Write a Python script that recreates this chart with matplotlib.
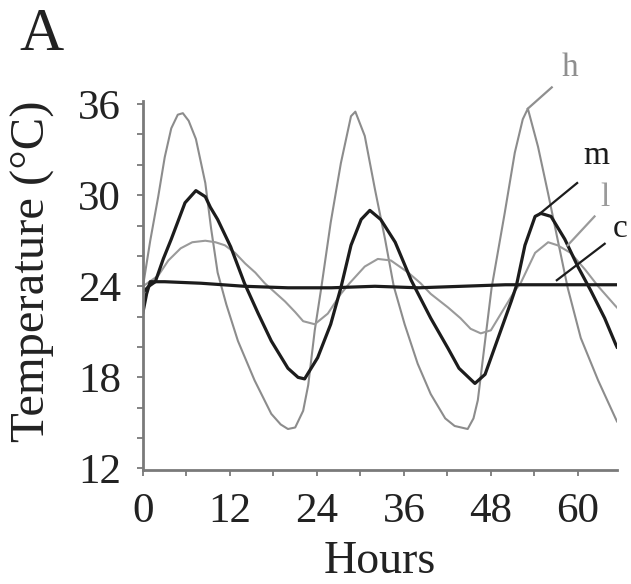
from matplotlib import pyplot as plt
from matplotlib.ticker import MultipleLocator

plt.rcParams['font.family'] = ['Liberation Serif', 'DejaVu Serif']

# h: high amplitude, m: medium, l: low, c: constant
h_hours = [0, 1, 2.1, 3, 3.9, 4.8, 5.5, 6.3, 7.3, 8.6, 9.4, 10.3, 11.5, 13.1,
           15.4, 17.7, 19, 20, 21, 22.1, 22.8, 23.7, 24.6, 25.9, 27.3, 28.7,
           29.3, 30.6, 32, 33.4, 34.6, 36.1, 37.9, 39.7, 41.7, 43, 44.8, 45.6,
           46.2, 47.2, 48.1, 49.9, 51.3, 52.4, 53.1, 54.5, 55.9, 57.2, 58.6,
           60.4, 62.8, 65.2, 65.4]
h_temp = [24.0, 27.0, 29.9, 32.5, 34.4, 35.3, 35.4, 34.9, 33.7, 30.8, 27.8,
          24.9, 22.8, 20.4, 17.8, 15.6, 14.9, 14.6, 14.7, 15.8, 17.5, 21.1,
          23.9, 28.2, 32.1, 35.2, 35.5, 33.9, 30.4, 27.1, 24.0, 21.5, 18.9,
          16.9, 15.3, 14.8, 14.6, 15.3, 16.5, 20.4, 23.9, 28.8, 32.8, 35.0,
          35.7, 33.2, 30.1, 27.1, 23.9, 20.6, 17.8, 15.3, 15.1]

m_hours = [0, 0.8, 1.7, 2.8, 3.9, 5.8, 7.3, 8.6, 9.3, 10.3, 12.1, 14, 15.9,
           17.7, 20, 21.4, 22.3, 24.1, 25.9, 27.3, 28.7, 30.1, 31.3, 32.8,
           34.8, 37, 39.7, 42.1, 43.6, 45.8, 47.2, 49, 50.8, 51.5, 52.7, 54.1,
           54.9, 56.3, 58.2, 60, 61.8, 63.7, 65.2, 65.4]
m_temp = [23.6, 24.0, 24.3, 25.8, 27.1, 29.5, 30.3, 29.9, 29.2, 28.4, 26.6,
          24.2, 22.2, 20.4, 18.6, 18.0, 17.9, 19.3, 21.5, 23.9, 26.7, 28.4,
          29.0, 28.4, 26.9, 24.4, 21.9, 19.9, 18.6, 17.6, 18.2, 20.6, 23.0,
          24.0, 26.7, 28.6, 28.8, 28.6, 27.1, 25.3, 23.7, 21.9, 20.2, 20.0]

l_hours = [0, 2.1, 3.5, 5.2, 6.8, 8.6, 10, 11.3, 12.7, 14.1, 15.5, 16.8, 18.2,
           19.6, 21, 22.1, 23.7, 25.5, 27.3, 28.5, 30.6, 32.4, 34.2, 36.6,
           38.3, 39.7, 42.1, 43.8, 45.2, 46.6, 48, 49.9, 51.3, 52.1, 54.1,
           55.9, 57.2, 59, 61, 62.8, 65.2, 65.4]
l_temp = [24.0, 24.7, 25.7, 26.5, 26.9, 27.0, 26.9, 26.7, 26.2, 25.5, 24.9,
          24.2, 23.6, 23.0, 22.3, 21.7, 21.5, 22.2, 23.5, 24.2, 25.3, 25.8,
          25.7, 24.9, 24.2, 23.5, 22.6, 21.9, 21.2, 20.9, 21.1, 22.6, 23.7,
          24.2, 26.2, 26.9, 26.7, 26.2, 25.1, 24.0, 22.7, 22.6]

c_hours = [0, 0.5, 1, 3, 8, 14, 20, 26, 32, 38, 44, 50, 56, 62, 65.4]
c_temp = [22.3, 23.5, 24.3, 24.3, 24.2, 24.0, 23.9, 23.9, 24.0, 23.9, 24.0,
          24.1, 24.1, 24.1, 24.1]

x_ticks = [0, 12, 24, 36, 48, 60]
y_ticks = [12, 18, 24, 30, 36]

GRAY = '#8c8c8c'
DARK = '#1c1c1c'
SPINE = '#7a7a7a'


def temperature_panel():
    fig = plt.figure(figsize=(6.31, 5.84), dpi=100)
    ax = fig.add_axes([0.2266, 0.1952, 0.7512, 0.6318])

    ax.plot(h_hours, h_temp, color=GRAY, lw=1.5)
    ax.plot(l_hours, l_temp, color='#9a9a9a', lw=1.5)
    ax.plot(m_hours, m_temp, color=DARK, lw=2.3)
    ax.plot(c_hours, c_temp, color=DARK, lw=2.3)

    # curve labels with leader lines
    labels = [
        ('h', (53.1, 35.7), (56.4, 37.1), (58.9, 38.4), '#8f8f8f'),
        ('m', (54.8, 28.8), (59.9, 30.8), (62.6, 32.6), DARK),
        ('l', (58.6, 26.7), (62.3, 28.6), (63.7, 29.8), '#9a9a9a'),
        ('c', (57.1, 24.4), (63.7, 26.8), (65.8, 27.8), DARK),
    ]
    for name, start, end, text_pos, color in labels:
        ax.plot([start[0], end[0]], [start[1], end[1]], color=color,
                lw=1.6, clip_on=False)
        ax.text(text_pos[0], text_pos[1], name, color=color, fontsize=24,
                ha='center', va='center', clip_on=False)

    ax.set_xlim(0, 65.4)
    ax.set_ylim(11.9, 36.2)
    ax.set_xticks(x_ticks)
    ax.set_yticks(y_ticks)
    ax.xaxis.set_minor_locator(MultipleLocator(6))
    ax.yaxis.set_minor_locator(MultipleLocator(2))

    for side in ['top', 'right']:
        ax.spines[side].set_visible(False)
    for side in ['left', 'bottom']:
        ax.spines[side].set_color(SPINE)
        ax.spines[side].set_linewidth(2)
    ax.tick_params(which='both', direction='out', color=SPINE, width=1.3,
                   length=4, labelsize=31, pad=12, labelcolor='#222222')

    ax.set_xlabel('Hours', fontsize=33, color='#222222')
    ax.set_ylabel('Temperature (°C)', fontsize=35, color='#222222')
    ax.xaxis.set_label_coords(0.5, -0.19)
    ax.yaxis.set_label_coords(-0.185, 0.54)
    fig.text(0.065, 0.94, 'A', fontsize=44, color='#222222',
             ha='center', va='center')

    fig.savefig('out.png', dpi=100)


if __name__ == "__main__":
    temperature_panel()
